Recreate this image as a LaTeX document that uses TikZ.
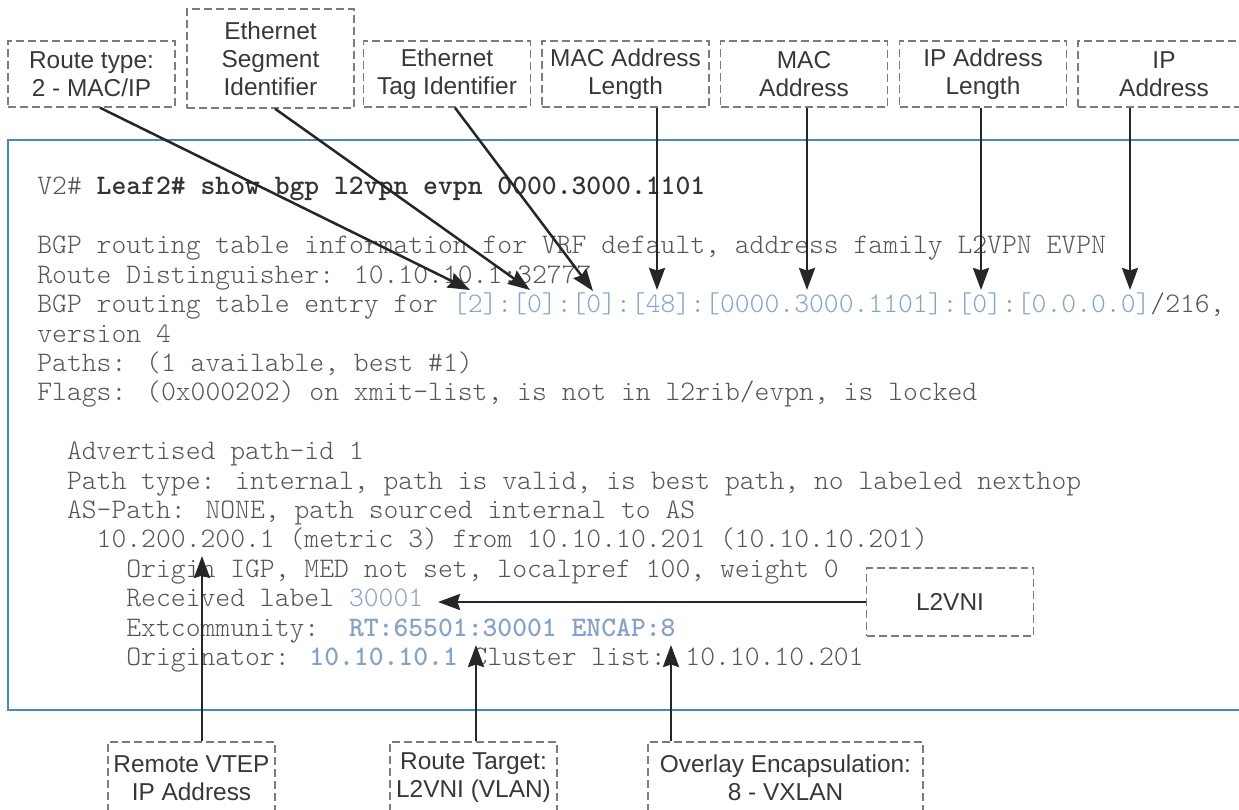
\documentclass[tikz,border=0pt]{standalone}
\usepackage{fontspec}
\setmainfont{Liberation Sans}
\newfontfamily\codefont{lmmonolt10-regular.otf}[BoldFont=lmmonolt10-bold.otf]
\usetikzlibrary{arrows.meta, calc}

\definecolor{codegray}{HTML}{555555}
\definecolor{cmdgray}{HTML}{333333}
\definecolor{codeblue}{HTML}{86A2C8}
\definecolor{framecolor}{HTML}{4A88BC}
\definecolor{dashgray}{HTML}{7C7C7C}
\definecolor{arrowcolor}{HTML}{262626}
\definecolor{labelcolor}{HTML}{383838}

\begin{document}
\begin{tikzpicture}[x=0.02cm, y=-0.02cm,
	fieldbox/.style={draw=dashgray, line width=0.03cm, dash pattern=on 0.16cm off 0.08cm,
		align=center, inner sep=0, minimum width=3.34cm, minimum height=1.32cm,
		text=labelcolor, font=\fontsize{13.9}{15.9}\selectfont},
	codeline/.style={anchor=base west, inner sep=0, text=codegray,
		font=\codefont\fontsize{16.09}{18}\selectfont},
	pointer/.style={draw=arrowcolor, line width=0.05cm,
		-{Stealth[length=0.44cm, width=0.32cm, inset=0.05cm]}}]
			\useasboundingbox (0, 0) rectangle (1239, 810);
			
			% output frame
			\draw[framecolor, line width=0.04cm] (1250, 140) -- (8, 140) -- (8, 710) -- (1250, 710);
			
			\node[codeline] (cmdline) at (37, 195) {V2\# \textbf{\color{cmdgray}Leaf2\# show bgp l2vpn evpn 0000.3000.1101}};
			\node[codeline] (infoline) at (37, 253.8) {BGP routing table information for VRF default, address family L2VPN EVPN};
			\node[codeline] (rdline) at (37, 283.2) {Route Distinguisher: 10.10.10.1:32777};
			\node[codeline] (entryline) at (37, 312.6) {BGP routing table entry for \textcolor{codeblue}{[2]:[0]:[0]:[48]:[0000.3000.1101]:[0]:[0.0.0.0]}/216,};
			\node[codeline] (versionline) at (37, 342) {version 4};
			\node[codeline] (pathsline) at (37, 371.4) {Paths: (1 available, best \#1)};
			\node[codeline] (flagsline) at (37, 400.8) {Flags: (0x000202) on xmit-list, is not in l2rib/evpn, is locked};
			\node[codeline] (advline) at (37, 459.6) {~~Advertised path-id 1};
			\node[codeline] (typeline) at (37, 489) {~~Path type: internal, path is valid, is best path, no labeled nexthop};
			\node[codeline] (asline) at (37, 518.4) {~~AS-Path: NONE, path sourced internal to AS};
			\node[codeline] (nhline) at (37, 547.8) {~~~~10.200.200.1 (metric 3) from 10.10.10.201 (10.10.10.201)};
			\node[codeline] (originline) at (37, 577.2) {~~~~~~Origin IGP, MED not set, localpref 100, weight 0};
			\node[codeline] (labelline) at (37, 606.6) {~~~~~~Received label \textcolor{codeblue}{30001}};
			\node[codeline] (extline) at (37, 636) {~~~~~~Extcommunity:~~\textcolor{codeblue}{\textbf{RT:65501:30001 ENCAP:8}}};
			\node[codeline] (origline) at (37, 665.4) {~~~~~~Originator: \textcolor{codeblue}{\textbf{10.10.10.1}} Cluster list: 10.10.10.201};
			
			% field labels above
			\node[fieldbox] (typelabel) at (91.5, 74) {Route type:\\2 - MAC/IP};
			\node[fieldbox, minimum height=1.98cm] (esilabel) at (270.5, 58.5) {Ethernet\\Segment\\Identifier};
			\node[fieldbox] (taglabel) at (447, 74) {Ethernet\\Tag Identifier};
			\node[fieldbox] (maclenlabel) at (625.5, 74) {MAC Address\\Length};
			\node[fieldbox] (maclabel) at (804, 74) {MAC\\Address};
			\node[fieldbox] (iplenlabel) at (983, 74) {IP Address\\Length};
			\node[fieldbox, minimum width=3.44cm] (iplabel) at (1164, 74) {IP\\Address};
			
			\coordinate (typetip) at (470, 290);
			\coordinate (esitip) at (530, 290);
			\coordinate (tagtip) at (593, 291);
			\coordinate (maclentip) at (657, 290);
			\coordinate (mactip) at (807, 290);
			\coordinate (iplentip) at (981, 290);
			\coordinate (iptip) at (1130, 290);
			
			\draw[pointer] ($(typelabel.south)+(8.5, 0)$) -- (typetip);
			\draw[pointer] ($(esilabel.south)+(4.5, 0)$) -- (esitip);
			\draw[pointer] ($(taglabel.south)+(8, 0)$) -- (tagtip);
			\draw[pointer] (maclenlabel.south -| maclentip) -- (maclentip);
			\draw[pointer] (maclabel.south -| mactip) -- (mactip);
			\draw[pointer] (iplenlabel.south -| iplentip) -- (iplentip);
			\draw[pointer] (iplabel.south -| iptip) -- (iptip);
			
			% L2VNI on the right
			\node[fieldbox, minimum height=1.36cm] (vnilabel) at (950, 602) {L2VNI};
			\coordinate (vnitip) at (438, 602);
			\draw[pointer] (vnilabel.west) -- (vnitip);
			
			% field labels below
			\node[fieldbox, minimum height=1.44cm] (vteplabel) at (191.5, 778) {Remote VTEP\\IP Address};
			\node[fieldbox, minimum height=1.44cm] (rtlabel) at (473.5, 778) {Route Target:\\L2VNI (VLAN)};
			\node[fieldbox, minimum height=1.44cm, minimum width=5.5cm] (encaplabel) at (785.5, 778) {Overlay Encapsulation:\\8 - VXLAN};
			
			\coordinate (vteptip) at (202, 556);
			\coordinate (rttip) at (476, 645);
			\coordinate (encaptip) at (671, 645);
			
			\draw[pointer] (vteptip |- vteplabel.north) -- (vteptip);
			\draw[pointer] (rttip |- rtlabel.north) -- (rttip);
			\draw[pointer] (encaptip |- encaplabel.north) -- (encaptip);
			
		\end{tikzpicture}
\end{document}
